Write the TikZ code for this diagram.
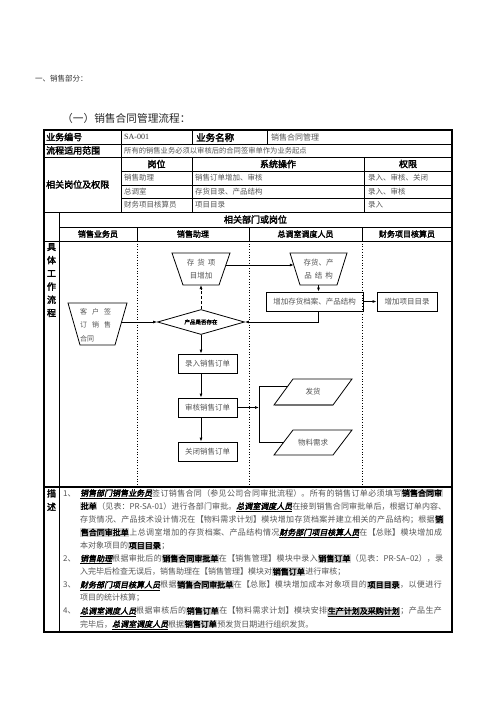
\documentclass[tikz,border=0pt]{standalone}
\usepackage{fontspec}
\usetikzlibrary{arrows.meta,shapes.geometric,calc}
\setmainfont{Noto Sans CJK SC}[AutoFakeBold=2.5]
\newfontfamily\cjkbi{Noto Sans CJK SC}[FakeSlant=0.2,AutoFakeBold=2.5]
\newfontfamily\latserif{Liberation Serif}
\XeTeXlinebreaklocale "zh"
\XeTeXlinebreakskip=0pt plus 1pt
\definecolor{txt}{HTML}{555555}
\definecolor{hlg}{HTML}{D4D4D4}
\newcommand\hlt[1]{{\setlength\fboxsep{0.6pt}\colorbox{hlg}{\bfseries\color{black}#1}}}
\newcommand\rolet[1]{{\color{black}\underline{\cjkbi\bfseries #1}}}
\newcommand\hlu[1]{{\setlength\fboxsep{0.6pt}\colorbox{hlg}{\color{black}\underline{\bfseries #1}}}}
\tikzset{
  tline/.style={line width=0.75pt},
  oline/.style={line width=1.2pt},
  lane/.style={dotted, line width=0.7pt},
  lbl/.style={font=\fontsize{9}{10}\selectfont\bfseries, inner sep=0},
  hdr/.style={font=\fontsize{8}{9}\selectfont\bfseries, inner sep=0},
  gtx/.style={font=\fontsize{7.5}{9}\selectfont, text=txt, inner sep=0},
  fbox/.style={draw, line width=0.8pt, minimum height=19pt, inner sep=0, font=\fontsize{7.5}{9}\selectfont, text=txt},
  arr/.style={-{Latex[length=4pt,width=3pt]}, line width=0.9pt},
  shp/.style={draw, line width=0.8pt},
}
\begin{document}
\begin{tikzpicture}[x=1pt,y=-1pt]
\fill[white] (0,0) rectangle (496,702);
\useasboundingbox (0,0) rectangle (496,702);
% titles
\node[anchor=west, inner sep=0, font=\fontsize{7.5}{9}\selectfont, text=black!80] (s1) at (35,79) {一、销售部分：};
\node[anchor=west, inner sep=0, font=\fontsize{10.7}{12}\selectfont, text=black!85] (s2) at (62,118) {（一）销售合同管理流程：};
% table lines
\draw[oline] (44,130) rectangle (452,632);
\draw[tline] (44,144) -- (452,144);
\draw[tline] (44,157) -- (452,157);
\draw[tline] (121,171) -- (452,171);
\draw[tline] (121,185) -- (452,185);
\draw[tline] (121,198) -- (452,198);
\draw[tline] (44,212) -- (452,212);
\draw[tline] (59,227) -- (452,227);
\draw[tline] (44,241) -- (452,241);
\draw[oline] (44,487) -- (452,487);
\draw[tline] (121,130) -- (121,212);
\draw[tline] (192,130) -- (192,144);
\draw[tline] (267,130) -- (267,144);
\draw[tline] (192,157) -- (192,212);
\draw[tline] (364,157) -- (364,212);
\draw[tline] (59,212) -- (59,632);
\foreach \x in {137,249,362} {\draw[tline] (\x,227) -- (\x,241); \draw[lane] (\x,241) -- (\x,487);}
% table text
\node[lbl, anchor=west] (h1) at (46,137) {业务编号};
\node[anchor=west, inner sep=0, font=\latserif\fontsize{8}{9}\selectfont, text=black!80] (h2) at (124,137) {SA-001};
\node[lbl, anchor=west, font=\fontsize{9.5}{10}\selectfont\bfseries] (h3) at (196,137.5) {业务名称};
\node[gtx, anchor=west, font=\fontsize{8}{9}\selectfont] (h4) at (271,137) {销售合同管理};
\node[lbl, anchor=west] (h5) at (46,150.5) {流程适用范围};
\node[gtx, anchor=west, font=\fontsize{7.3}{9}\selectfont] (h6) at (124,150.5) {所有的销售业务必须以审核后的合同签审单作为业务起点};
\node[lbl, anchor=west] (h7) at (46,184.5) {相关岗位及权限};
\node[lbl] (g1) at (156.5,164) {岗位};
\node[lbl] (g2) at (278,164) {系统操作};
\node[lbl] (g3) at (408,164) {权限};
\node[gtx, anchor=west] (r11) at (124,178) {销售助理};
\node[gtx, anchor=west] (r12) at (195,178) {销售订单增加、审核};
\node[gtx, anchor=west] (r13) at (368,178) {录入、审核、关闭};
\node[gtx, anchor=west] (r21) at (124,191.5) {总调室};
\node[gtx, anchor=west] (r22) at (195,191.5) {存货目录、产品结构};
\node[gtx, anchor=west] (r23) at (368,191.5) {录入、审核};
\node[gtx, anchor=west] (r31) at (124,205) {财务项目核算员};
\node[gtx, anchor=west] (r32) at (195,205) {项目目录};
\node[gtx, anchor=west] (r33) at (368,205) {录入};
\node[lbl] (rel) at (255.5,219.5) {相关部门或岗位};
\node[hdr] (l1) at (98,234) {销售业务员};
\node[hdr] (l2) at (193,234) {销售助理};
\node[hdr] (l3) at (305.5,234) {总调室调度人员};
\node[hdr] (l4) at (407,234) {财务项目核算员};
\node[lbl, anchor=north, align=center, font=\fontsize{9}{13.2}\selectfont\bfseries] (jt1) at (51.5,243) {具\\体\\工\\作\\流\\程};
\node[lbl, anchor=north, align=center, font=\fontsize{9}{13.5}\selectfont\bfseries] (ms) at (51.5,489) {描\\述};
% flow shapes
\draw[shp] (172,253) -- (230,253) -- (219,285) -- (183,285) -- cycle;
\node[gtx, align=center, font=\fontsize{7.5}{12.5}\selectfont] (t1) at (201,269) {存\hspace{3pt}货\hspace{3pt}项\\目增加};
\coordinate (t1b) at (201,285);
\coordinate (t1r) at (225.9,265);
\draw[shp] (290,253) -- (347,253) -- (337,285) -- (300,285) -- cycle;
\node[gtx, align=center, font=\fontsize{7.5}{12.5}\selectfont] (t2) at (318.5,269) {存货、产\\品\hspace{3pt}结\hspace{3pt}构};
\coordinate (t2b) at (318.5,285);
\coordinate (t2l) at (293.8,265);
\draw[shp] (68,303) -- (127,303) -- (115,345) -- (80,345) -- cycle;
\node[gtx, anchor=north west, align=left, font=\fontsize{7}{13.5}\selectfont] (t3) at (80,308) {客\hspace{5pt}户\hspace{5pt}签\\订\hspace{5pt}销\hspace{5pt}售\\合同};
\coordinate (t3r) at (121.6,322);
\node[diamond, draw, line width=0.8pt, minimum width=87pt, minimum height=25pt, inner sep=0, aspect=3.5, font=\fontsize{5.5}{6}\selectfont\bfseries] (d) at (201,322) {产品是否存在};
\node[fbox, minimum width=97pt] (b1) at (314.5,301.5) {增加存货档案、产品结构};
\node[fbox, minimum width=60pt] (b2) at (407,301.5) {增加项目目录};
\node[fbox, minimum width=59pt] (b3) at (207.5,363.5) {录入销售订单};
\node[fbox, minimum width=59pt] (b4) at (207.5,407.5) {审核销售订单};
\node[fbox, minimum width=59pt] (b5) at (207.5,451.5) {关闭销售订单};
\draw[shp] (293,379) -- (352,379) -- (333,405) -- (274,405) -- cycle;
\draw[line width=1.4pt, black!55] (274.5,405) -- (332.5,405);
\node[gtx] (p1) at (313,392) {发货};
\draw[shp] (293,430) -- (352,430) -- (333,455) -- (274,455) -- cycle;
\node[gtx] (p2) at (313,442.5) {物料需求};
\coordinate (p1l) at (288,386);
\coordinate (p2l) at (284,442);
\coordinate (jtop) at (259,386);
\coordinate (jbot) at (259,442);
% connectors
\draw[arr] (t1r) -- (t2l);
\draw[arr] (t2b) -- (t2b |- b1.north);
\draw[arr] (b1.east) -- (b2.west);
\draw[arr] (b1.south -| t2b) -- (t2b |- d) -- (d.east);
\draw[arr, dash pattern=on 3pt off 2pt] (d.north) -- (t1b);
\draw[arr] (t3r) -- (d.west);
\draw[arr] (d.south) -- (d.south |- b3.north);
\draw[arr] (b3.south -| d) -- (d |- b4.north);
\draw[arr] (b4.south -| d) -- (d |- b5.north);
\draw[arr] (b4.east) -- (b4.east -| jtop);
\draw[line width=0.8pt] (p1l) -- (jtop) -- (jbot) -- (p2l);
% description
\node[anchor=north west, inner sep=0, text width=385pt, font=\fontsize{8}{13.1}\selectfont, text=txt] (desc) at (63,488.5) {%
\parindent=0pt
\hangindent=17pt\hangafter=1
\makebox[17pt][l]{1、}\rolet{销售部门销售业务员}签订销售合同（参见公司合同审批流程）。所有的销售订单必须填写\hlt{销售合同审}\linebreak
\hlt{批单}（见表：PR-SA-01）进行各部门审批。\rolet{总调室调度人员}在接到销售合同审批单后，根据订单内容、\linebreak
存货情况、产品技术设计情况在【物料需求计划】模块增加存货档案并建立相关的产品结构；根据\hlt{销}\linebreak
\hlt{售合同审批单}上总调室增加的存货档案、产品结构情况\rolet{财务部门项目核算人员}在【总账】模块增加成\linebreak
本对象项目的\hlt{项目目录}；\par
\hangindent=17pt\hangafter=1
\makebox[17pt][l]{2、}\rolet{销售助理}根据审批后的\hlt{销售合同审批单}在【销售管理】模块中录入\hlt{销售订单}（见表：PR-SA--02），录\linebreak
入完毕后检查无误后，销售助理在【销售管理】模块对\hlt{销售订单}进行审核；\par
\hangindent=17pt\hangafter=1
\makebox[17pt][l]{3、}\rolet{财务部门项目核算人员}根据\hlt{销售合同审批单}在【总账】模块增加成本对象项目的\hlt{项目目录}，以便进行\linebreak
项目的统计核算；\par
\hangindent=17pt\hangafter=1
\makebox[17pt][l]{4、}\rolet{总调室调度人员}根据审核后的\hlt{销售订单}在【物料需求计划】模块安排\hlu{生产计划及采购计划}；产品生产\linebreak
完毕后，\rolet{总调室调度人员}根据\hlt{销售订单}预发货日期进行组织发货。\par}
;
\end{tikzpicture}
\end{document}
